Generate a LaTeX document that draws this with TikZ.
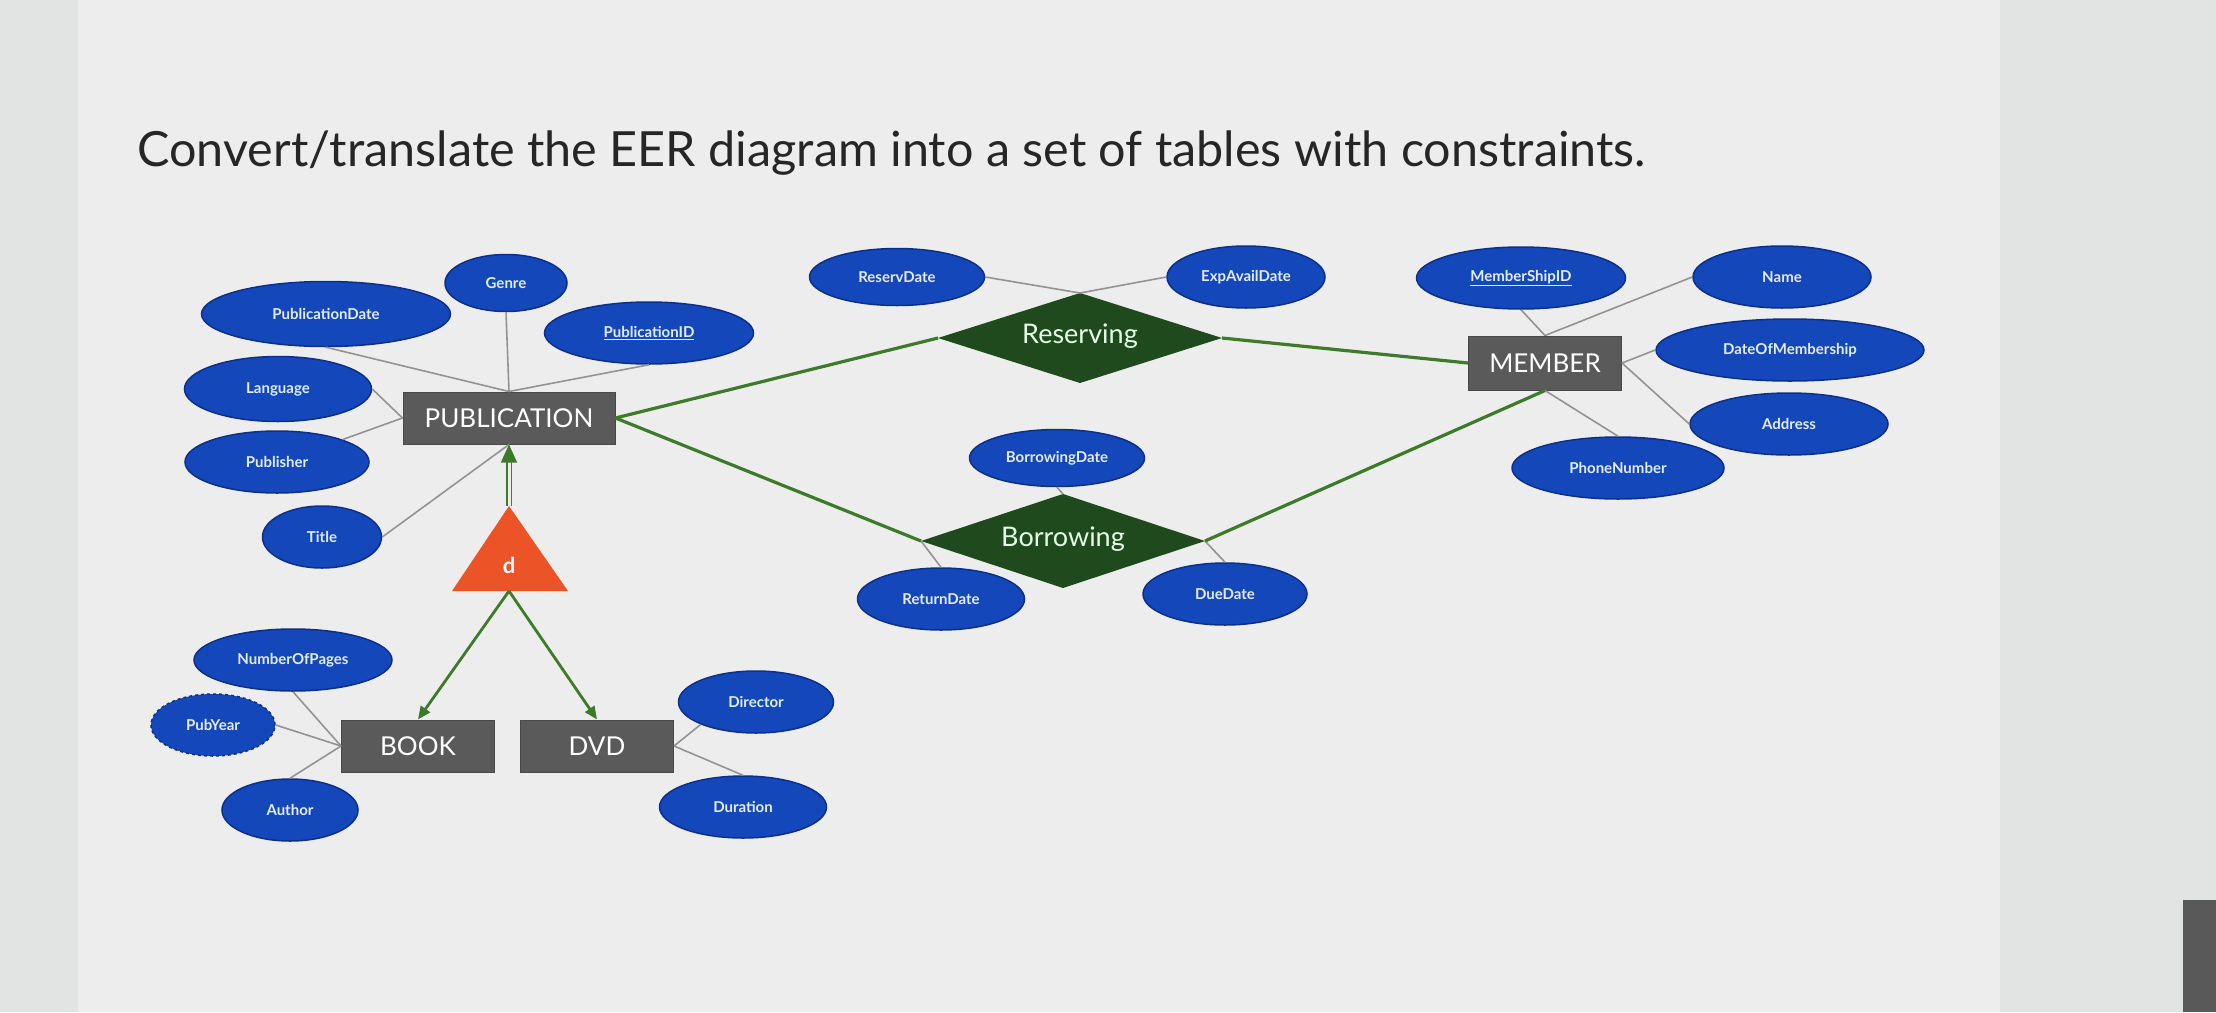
\documentclass[tikz,border=0pt]{standalone}
\usepackage{fontspec}
\setmainfont{Lato}
\usetikzlibrary{shapes.geometric,arrows.meta}
\definecolor{bgc}{HTML}{E2E4E4}
\definecolor{panel}{HTML}{ECEDEC}
\definecolor{attrfill}{HTML}{1448BA}
\definecolor{attrdraw}{HTML}{0D2F8C}
\definecolor{entfill}{HTML}{5A5A5A}
\definecolor{relfill}{HTML}{1F4A1D}
\definecolor{grn}{HTML}{3D7A2A}
\definecolor{tri}{HTML}{EC5326}
\definecolor{attrtxt}{HTML}{E3ECFF}
\begin{document}
\begin{tikzpicture}[x=1pt,y=-1pt,
  attr/.style={ellipse,fill=attrfill,draw=attrdraw,line width=1.5pt,inner sep=0pt,text=attrtxt,font=\fontsize{15}{17}\selectfont\bfseries},
  ent/.style={rectangle,fill=entfill,draw=entfill!80!black,line width=1pt,minimum height=52pt,inner sep=0pt,text=white,font=\fontsize{26}{30}\selectfont},
  rellab/.style={inner sep=0pt,text=white!90!green,font=\fontsize{27}{30}\selectfont},
  aline/.style={draw=gray!85,line width=1.6pt},
  gline/.style={draw=grn,line width=3.2pt}]
\fill[bgc] (0,0) rectangle (2216,1012);
\fill[panel] (78,0) rectangle (2000,1012);
\fill[gray!70!black] (2183,900) rectangle (2216,1012);
\useasboundingbox (0,0) rectangle (2216,1012);
\node[anchor=west,text=black!85,font=\fontsize{48.5}{52}\selectfont] (title) at (134,153) {Convert/translate the EER diagram into a set of tables with constraints.};
% entities
\node[ent,minimum width=212pt] (pub) at (509,418) {PUBLICATION};
\node[ent,minimum width=153pt] (book) at (418,746) {BOOK};
\node[ent,minimum width=153pt] (dvd) at (597,746) {DVD};
\node[ent,minimum width=153pt,minimum height=54pt] (mem) at (1545,363) {MEMBER};
% relationships
\coordinate (resN) at (1080,293); \coordinate (resS) at (1080,383);
\coordinate (resW) at (938,338); \coordinate (resE) at (1222,338);
\fill[relfill] (resN) -- (resE) -- (resS) -- (resW) -- cycle;
\node[rellab] (res) at (1080,336) {Reserving};
\coordinate (borN) at (1063,494); \coordinate (borS) at (1063,588);
\coordinate (borW) at (921,541); \coordinate (borE) at (1205,541);
\fill[relfill] (borN) -- (borE) -- (borS) -- (borW) -- cycle;
\node[rellab] (bor) at (1063,539) {Borrowing};
% attributes
\node[attr,minimum width=122pt,minimum height=57pt] (genre) at (506,283) {Genre};
\node[attr,minimum width=249pt,minimum height=65pt] (pdate) at (326,314) {PublicationDate};
\node[attr,minimum width=209pt,minimum height=62pt] (pid) at (649,333) {\underline{PublicationID}};
\node[attr,minimum width=187pt,minimum height=65pt] (lang) at (278,389) {Language};
\node[attr,minimum width=184pt,minimum height=62pt] (publ) at (277,462) {Publisher};
\node[attr,minimum width=119pt,minimum height=62pt] (title2) at (322,537) {Title};
\node[attr,minimum width=198pt,minimum height=62pt] (nop) at (293,660) {NumberOfPages};
\node[attr,minimum width=124pt,minimum height=62pt,dashed] (pyear) at (213,725) {PubYear};
\node[attr,minimum width=136pt,minimum height=62pt] (author) at (290,810) {Author};
\node[attr,minimum width=155pt,minimum height=62pt] (dir) at (756,702) {Director};
\node[attr,minimum width=167pt,minimum height=62pt] (dur) at (743,807) {Duration};
\node[attr,minimum width=175pt,minimum height=57pt] (rdate) at (897,277) {ReservDate};
\node[attr,minimum width=158pt,minimum height=62pt] (exp) at (1246,277) {ExpAvailDate};
\node[attr,minimum width=175pt,minimum height=57pt] (bdate) at (1057,458) {BorrowingDate};
\node[attr,minimum width=167pt,minimum height=62pt] (retd) at (941,599) {ReturnDate};
\node[attr,minimum width=164pt,minimum height=62pt] (dued) at (1225,594) {DueDate};
\node[attr,minimum width=209pt,minimum height=62pt] (msid) at (1521,278) {\underline{MemberShipID}};
\node[attr,minimum width=178pt,minimum height=62pt] (name) at (1782,277) {Name};
\node[attr,minimum width=268pt,minimum height=62pt] (dom) at (1790,350) {DateOfMembership};
\node[attr,minimum width=198pt,minimum height=62pt] (addr) at (1789,424) {Address};
\node[attr,minimum width=212pt,minimum height=62pt] (phone) at (1618,468) {PhoneNumber};
% triangle
\coordinate (tritop) at (509,506);
\coordinate (tribl) at (452,591);
\coordinate (tribr) at (568,591);
\coordinate (tribot) at (509,591);
\fill[tri] (tritop) -- (tribr) -- (tribl) -- cycle;
\node[text=white,font=\fontsize{22}{24}\selectfont\bfseries] (dlab) at (509,565) {d};
% attribute lines
\draw[aline] (genre.south) -- (pub.north);
\draw[aline] (pdate.south) -- (pub.north);
\draw[aline] (pid.south) -- (pub.north);
\draw[aline] (lang.east) -- (pub.west);
\draw[aline] (publ.north east) -- (pub.west);
\draw[aline] (title2.east) -- (pub.south);
\draw[aline] (nop.south) -- (book.west);
\draw[aline] (pyear.east) -- (book.west);
\draw[aline] (author.north) -- (book.west);
\draw[aline] (dir.south west) -- (dvd.east);
\draw[aline] (dur.north) -- (dvd.east);
\draw[aline] (rdate.east) -- (resN);
\draw[aline] (exp.west) -- (resN);
\draw[aline] (bdate.south) -- (borN);
\draw[aline] (retd.north) -- (borW);
\draw[aline] (dued.north) -- (borE);
\draw[aline] (msid.south) -- (mem.north);
\draw[aline] (name.west) -- (mem.north);
\draw[aline] (dom.west) -- (mem.east);
\draw[aline] (addr.west) -- (mem.east);
\draw[aline] (phone.north) -- (mem.south);
% relationship lines
\draw[gline] (pub.east) -- (resW);
\draw[gline] (pub.east) -- (borW);
\draw[gline] (resE) -- (mem.west);
\draw[gline] (borE) -- (mem.south);
% specialization
\draw[grn,line width=1.2pt,double=panel,double distance=3pt,-{Triangle[length=18pt,width=16pt,fill=grn]}] (tritop) -- (pub.south);
\draw[grn,line width=2.8pt,-{Triangle[length=13pt,width=11pt]}] (tribot) -- (book.north);
\draw[grn,line width=2.8pt,-{Triangle[length=13pt,width=11pt]}] (tribot) -- (dvd.north);
\end{tikzpicture}
\end{document}
